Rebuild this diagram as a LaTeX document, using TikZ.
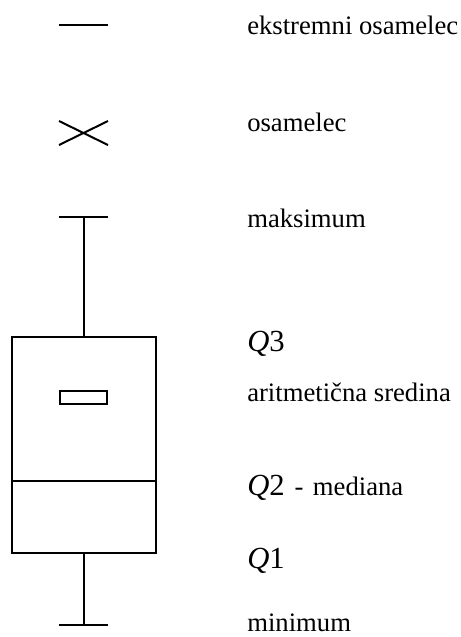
\documentclass[tikz,border=0pt]{standalone}
\usepackage{fontspec}
\setmainfont{Liberation Serif}
\newcommand{\qbig}[1]{{\fontsize{23}{26}\selectfont\textit{Q}#1}}
\begin{document}
\begin{tikzpicture}[x=0.75pt,y=-0.75pt,
  ln/.style={line width=1.5pt, line cap=butt},
  boxst/.style={draw, rectangle, line width=1.5pt, inner sep=0pt, outer sep=0pt},
  lbl/.style={anchor=base west, inner sep=0pt, font=\fontsize{20}{24}\selectfont}]
\useasboundingbox (0,0) rectangle (461,637);
% box
\node[boxst, minimum width=108pt, minimum height=161.8pt] (box) at (83.5,445) {};
\coordinate (med) at (83.5,481);
\draw[ln] (box.west |- med) -- (box.east |- med);
% mean
\node[boxst, minimum width=35.6pt, minimum height=9.5pt] (mean) at (83.5,397.7) {};
% whiskers
\coordinate (maxC) at (83.5,217);
\coordinate (maxL) at (59,217);
\coordinate (maxR) at (108,217);
\coordinate (minC) at (83.5,624.7);
\coordinate (minL) at (59,624.7);
\coordinate (minR) at (108,624.7);
\draw[ln] (box.north) -- (maxC);
\draw[ln] (maxL) -- (maxR);
\draw[ln] (box.south) -- (minC);
\draw[ln] (minL) -- (minR);
% extreme outlier
\coordinate (exL) at (59,24.7);
\coordinate (exR) at (108,24.7);
\draw[ln] (exL) -- (exR);
% outlier cross
\coordinate (xa) at (59,121);
\coordinate (xb) at (108,145);
\coordinate (xc) at (59,145);
\coordinate (xd) at (108,121);
\draw[ln] (xa) -- (xb);
\draw[ln] (xc) -- (xd);
% labels
\node[lbl] (t1) at (247,34.7) {ekstremni osamelec};
\node[lbl] (t2) at (247,131.7) {osamelec};
\node[lbl] (t3) at (247,227.7) {maksimum};
\node[lbl] (t4) at (247,351.7) {\qbig{3}};
\node[lbl] (t5) at (247,401.7) {aritmetična sredina};
\node[lbl] (t6) at (247,495.7) {\qbig{2}\hspace{7.5pt}-\hspace{7pt}mediana};
\node[lbl] (t7) at (247,568.3) {\qbig{1}};
\node[lbl] (t8) at (247,631.5) {minimum};
\end{tikzpicture}
\end{document}
